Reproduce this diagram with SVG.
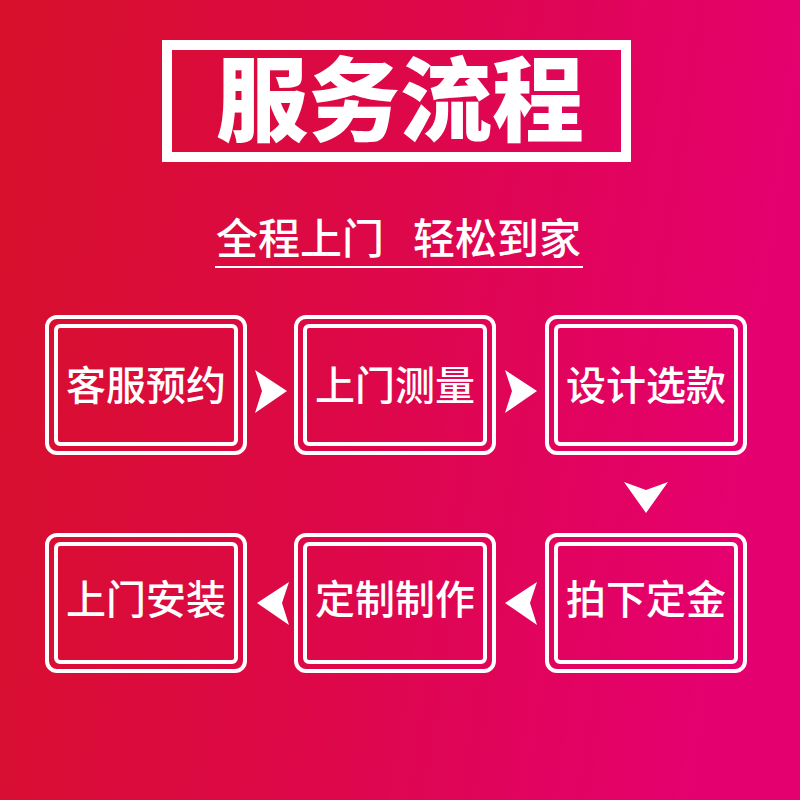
<svg xmlns="http://www.w3.org/2000/svg" width="800" height="800" viewBox="0 0 800 800">
<defs>
<linearGradient id="bg" x1="0" y1="0" x2="1" y2="0.15">
<stop offset="0" stop-color="#D7102A"/>
<stop offset="0.5" stop-color="#DD0848"/>
<stop offset="1" stop-color="#E5006F"/>
</linearGradient>
<style>
.outer{fill:none;stroke:#fff;stroke-width:4}
.inner{fill:none;stroke:#fff;stroke-width:4}
.lbl{font-family:"Noto Sans CJK SC","Noto Sans",sans-serif;font-size:40px;font-weight:500;fill:#fff;text-anchor:middle}
.sub{font-family:"Noto Sans CJK SC","Noto Sans",sans-serif;font-size:42px;font-weight:500;fill:#fff;text-anchor:middle}
.arr{fill:#fff}
</style>
</defs>
<rect width="800" height="800" fill="url(#bg)"/>
<g id="title">
<rect x="167" y="45" width="459" height="112" fill="none" stroke="#fff" stroke-width="10"/>
<text x="400" y="134" font-family="'Noto Sans CJK SC',sans-serif" font-size="92" font-weight="900" fill="#fff" text-anchor="middle">服务流程</text>
</g>
<g id="subtitle">
<text class="sub" x="300" y="254">全程上门</text>
<text class="sub" x="497" y="254">轻松到家</text>
<rect x="215" y="266" width="368" height="2" fill="#fff"/>
</g>
<g id="n1">
<rect class="outer" x="47" y="317" width="198" height="136" rx="10"/>
<rect class="inner" x="56" y="326" width="180" height="118" rx="4"/>
<text class="lbl" x="146" y="400">客服预约</text>
</g>
<g id="n2">
<rect class="outer" x="296" y="317" width="198" height="136" rx="10"/>
<rect class="inner" x="305" y="326" width="180" height="118" rx="4"/>
<text class="lbl" x="395" y="400">上门测量</text>
</g>
<g id="n3">
<rect class="outer" x="547" y="317" width="198" height="136" rx="10"/>
<rect class="inner" x="556" y="326" width="180" height="118" rx="4"/>
<text class="lbl" x="646" y="400">设计选款</text>
</g>
<g id="n4">
<rect class="outer" x="547" y="535" width="198" height="136" rx="10"/>
<rect class="inner" x="556" y="544" width="180" height="118" rx="4"/>
<text class="lbl" x="646" y="614">拍下定金</text>
</g>
<g id="n5">
<rect class="outer" x="296" y="535" width="198" height="136" rx="10"/>
<rect class="inner" x="305" y="544" width="180" height="118" rx="4"/>
<text class="lbl" x="395" y="614">定制制作</text>
</g>
<g id="n6">
<rect class="outer" x="47" y="535" width="198" height="136" rx="10"/>
<rect class="inner" x="56" y="544" width="180" height="118" rx="4"/>
<text class="lbl" x="146" y="614">上门安装</text>
</g>
<g id="connectors">
<polygon class="arr" points="255,370 287,391 255,413 262,391"/>
<polygon class="arr" points="505,370 537,391 505,413 512,391"/>
<polygon class="arr" points="624,482 646,490 668,482 646,513"/>
<polygon class="arr" points="537,582 505,603 537,625 530,603"/>
<polygon class="arr" points="289,582 257,603 289,625 282,603"/>
</g>
</svg>
